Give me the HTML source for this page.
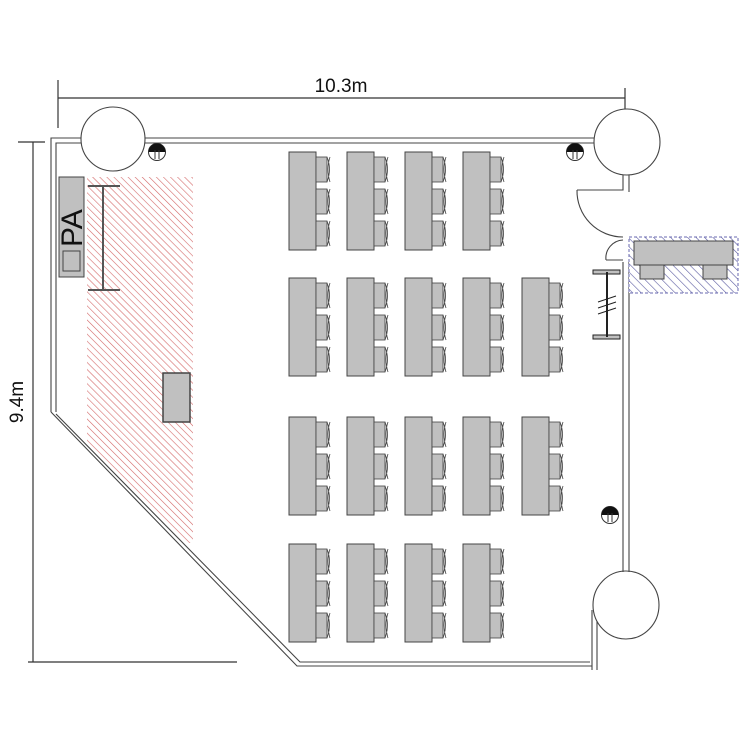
<!DOCTYPE html>
<html><head><meta charset="utf-8"><style>body{margin:0;background:#fff}svg{display:block}</style></head>
<body>
<svg width="750" height="750" viewBox="0 0 750 750" xmlns="http://www.w3.org/2000/svg" font-family="Liberation Sans, sans-serif">
<defs>
<pattern id="red" patternUnits="userSpaceOnUse" width="5" height="5" patternTransform="rotate(-45)">
<rect width="5" height="5" fill="#fff"/><line x1="0" y1="0" x2="0" y2="5" stroke="#d46a6a" stroke-width="1.2"/></pattern>
<pattern id="blue" patternUnits="userSpaceOnUse" width="6" height="6" patternTransform="rotate(-45)">
<rect width="6" height="6" fill="#fff"/><line x1="0" y1="0" x2="0" y2="6" stroke="#5a5aa0" stroke-width="1.2"/></pattern>
<clipPath id="room"><path d="M56 100 L56 414 L300 662 L700 662 L700 100 Z"/></clipPath>
<g id="tbl">
<rect x="0" y="0" width="27" height="98" fill="#c0c0c0" stroke="#444" stroke-width="1"/>
<g fill="#c0c0c0" stroke="#444" stroke-width="0.8">
<rect x="27" y="5" width="11" height="25"/><path d="M38 5 q5 12 0 25 M41 5 q-4 12 0 25" fill="none"/>
<rect x="27" y="37" width="11" height="25"/><path d="M38 37 q5 12 0 25 M41 37 q-4 12 0 25" fill="none"/>
<rect x="27" y="69" width="11" height="25"/><path d="M38 69 q5 12 0 25 M41 69 q-4 12 0 25" fill="none"/>
</g></g>
<g id="lamp"><circle r="8.5" fill="#fff" stroke="#333"/><path d="M-8.5 0 A8.5 8.5 0 0 1 8.5 0 Z" fill="#111"/><line x1="-2" y1="-2" x2="-2" y2="7" stroke="#333"/><line x1="2" y1="-2" x2="2" y2="7" stroke="#333"/></g>
</defs>
<g stroke="#333" stroke-width="1.2" fill="none">
<line x1="58" y1="98" x2="625" y2="98"/><line x1="58" y1="80" x2="58" y2="128"/><line x1="625" y1="88" x2="625" y2="110"/>
<line x1="18" y1="142" x2="45" y2="142"/><line x1="33" y1="142" x2="33" y2="662"/><line x1="28" y1="662" x2="237" y2="662"/>
</g>
<text x="341" y="92" font-size="19" text-anchor="middle" fill="#111">10.3m</text>
<text transform="translate(23,402) rotate(-90)" font-size="19" text-anchor="middle" fill="#111">9.4m</text>
<rect x="87" y="177" width="106" height="366" fill="url(#red)" clip-path="url(#room)"/>
<rect x="163" y="373" width="27" height="49" fill="#c0c0c0" stroke="#444" stroke-width="1.5"/>
<g stroke="#555" stroke-width="2"><line x1="103" y1="186" x2="103" y2="290"/><line x1="88" y1="186" x2="120" y2="186"/><line x1="88" y1="290" x2="120" y2="290"/></g>
<rect x="59" y="177" width="25" height="100" fill="#c0c0c0" stroke="#444"/>
<rect x="63" y="251" width="17" height="20" fill="#c0c0c0" stroke="#444"/>
<text transform="translate(82,247) rotate(-90)" font-size="30" fill="#111">PA</text>
<g stroke="#444" stroke-width="1.1" fill="none">
<path d="M51 412 L51 138 L82 138 M144 138 L596 138"/>
<path d="M56 412 L56 143 L82 143 M144 143 L596 143"/>
<circle cx="113" cy="139" r="32" fill="#fff"/>
<path d="M51 412 L297 666 L592 666 M56 414 L300 662 L590 662"/>
<line x1="592" y1="610" x2="592" y2="670"/><line x1="597" y1="615" x2="597" y2="670"/>
<ellipse cx="626" cy="605" rx="33" ry="34" fill="#fff"/>
<line x1="623" y1="262" x2="623" y2="572"/><line x1="629" y1="262" x2="629" y2="572"/>
<circle cx="627" cy="142" r="33" fill="#fff"/>
<path d="M623 175 L623 190 L577 190 M629 175 L629 192"/>
<path d="M577 190 A46 46 0 0 0 623 237"/>
<path d="M606 260 A18 18 0 0 1 623 240 M606 260 L623 260"/>
</g>
<use href="#lamp" x="157" y="152"/><use href="#lamp" x="575" y="152"/><use href="#lamp" x="610" y="515"/>
<rect x="629" y="237" width="109" height="56" fill="url(#blue)" stroke="#6a6ab0" stroke-dasharray="3 2"/>
<rect x="634" y="241" width="99" height="24" fill="#c0c0c0" stroke="#444"/>
<rect x="640" y="265" width="24" height="14" fill="#c0c0c0" stroke="#444"/>
<rect x="703" y="265" width="24" height="14" fill="#c0c0c0" stroke="#444"/>
<g stroke="#222"><rect x="593" y="270" width="27" height="4" fill="#c0c0c0"/><rect x="593" y="335" width="27" height="4" fill="#c0c0c0"/><line x1="607" y1="272" x2="607" y2="337" stroke-width="2"/>
<path d="M598 302 l18 -6 M598 308 l18 -6 M598 314 l18 -6"/></g>
<use href="#tbl" x="289" y="152"/><use href="#tbl" x="347" y="152"/><use href="#tbl" x="405" y="152"/><use href="#tbl" x="463" y="152"/>
<use href="#tbl" x="289" y="278"/><use href="#tbl" x="347" y="278"/><use href="#tbl" x="405" y="278"/><use href="#tbl" x="463" y="278"/><use href="#tbl" x="522" y="278"/>
<use href="#tbl" x="289" y="417"/><use href="#tbl" x="347" y="417"/><use href="#tbl" x="405" y="417"/><use href="#tbl" x="463" y="417"/><use href="#tbl" x="522" y="417"/>
<use href="#tbl" x="289" y="544"/><use href="#tbl" x="347" y="544"/><use href="#tbl" x="405" y="544"/><use href="#tbl" x="463" y="544"/>
</svg>
</body></html>
